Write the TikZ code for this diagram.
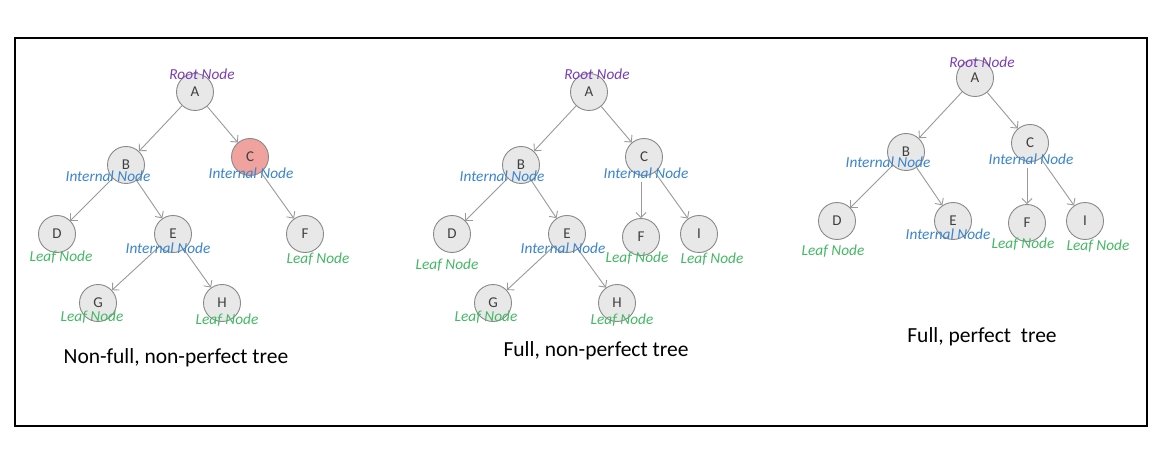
\documentclass[tikz,border=0pt]{standalone}
\usepackage{fontspec}
\setmainfont{Carlito}
\usetikzlibrary{arrows.meta}
\definecolor{rootc}{HTML}{7A3DB8}
\definecolor{intc}{HTML}{3A85CC}
\definecolor{leafc}{HTML}{45B865}
\definecolor{nodefill}{HTML}{E8E8E8}
\definecolor{nodeborder}{HTML}{8A8A8A}
\definecolor{nodetext}{HTML}{404040}
\definecolor{pinkfill}{HTML}{F0A29E}
\definecolor{edgec}{HTML}{9A9A9A}
\begin{document}
\begin{tikzpicture}[x=1pt,y=-1pt,
  tn/.style={circle,draw=nodeborder,fill=nodefill,line width=0.9pt,minimum size=37pt,inner sep=0pt,font=\fontsize{15}{15}\selectfont,text=nodetext},
  pinknode/.style={tn,fill=pinkfill},
  lbl/.style={inner sep=0pt,font=\fontsize{15.3}{15.3}\selectfont\itshape},
  rootlbl/.style={lbl,text=rootc},
  intlbl/.style={lbl,text=intc},
  leaflbl/.style={lbl,text=leafc},
  edge/.style={draw=edgec,line width=0.9pt,-{Straight Barb[length=5pt,width=10pt]}},
  ttl/.style={inner sep=0pt,font=\fontsize{21.5}{21.5}\selectfont,text=black}]
\fill[white] (0,0) rectangle (1166,462);
\useasboundingbox (0,0) rectangle (1166,462);
\draw[line width=2.2pt] (15,38) rectangle (1147,426);

% ---------- Tree 1 ----------
\node[tn] (A1) at (195,92) {A};
\node[tn] (B1) at (126,165) {B};
\node[pinknode] (C1) at (250,157) {C};
\node[tn] (D1) at (57,234) {D};
\node[tn] (E1) at (173,234) {E};
\node[tn] (F1) at (305,234) {F};
\node[tn] (G1) at (98,303) {G};
\node[tn] (H1) at (222,303) {H};
\draw[edge] (A1) -- (B1);
\draw[edge] (A1) -- (C1);
\draw[edge] (B1) -- (D1);
\draw[edge] (B1) -- (E1);
\draw[edge] (C1) -- (F1);
\draw[edge] (E1) -- (G1);
\draw[edge] (E1) -- (H1);
\node[rootlbl] (rA1) at (202,74) {Root Node};
\node[intlbl] (iB1) at (108,176) {Internal Node};
\node[intlbl] (iC1) at (251,173) {Internal Node};
\node[leaflbl] (lD1) at (61,257) {Leaf Node};
\node[intlbl] (iE1) at (168,248) {Internal Node};
\node[leaflbl] (lF1) at (318,259) {Leaf Node};
\node[leaflbl] (lG1) at (92,317) {Leaf Node};
\node[leaflbl] (lH1) at (227,320) {Leaf Node};
\node[ttl] (t1) at (176,358) {Non-full, non-perfect tree};

% ---------- Tree 2 ----------
\node[tn] (A2) at (589,92) {A};
\node[tn] (B2) at (521,165) {B};
\node[tn] (C2) at (644,157) {C};
\node[tn] (D2) at (452,234) {D};
\node[tn] (E2) at (567,234) {E};
\node[tn] (F2) at (641,237) {F};
\node[tn] (I2) at (699,234) {I};
\node[tn] (G2) at (493,303) {G};
\node[tn] (H2) at (617,303) {H};
\draw[edge] (A2) -- (B2);
\draw[edge] (A2) -- (C2);
\draw[edge] (B2) -- (D2);
\draw[edge] (B2) -- (E2);
\draw[edge,shorten <=6pt] (C2.south -| F2) -- (F2);
\draw[edge] (C2) -- (I2);
\draw[edge] (E2) -- (G2);
\draw[edge] (E2) -- (H2);
\node[rootlbl] (rA2) at (597,74) {Root Node};
\node[intlbl] (iB2) at (502,176) {Internal Node};
\node[intlbl] (iC2) at (646,173) {Internal Node};
\node[leaflbl] (lD2) at (447,265) {Leaf Node};
\node[intlbl] (iE2) at (563,248) {Internal Node};
\node[leaflbl] (lF2) at (637,258) {Leaf Node};
\node[leaflbl] (lI2) at (712,259) {Leaf Node};
\node[leaflbl] (lG2) at (486,317) {Leaf Node};
\node[leaflbl] (lH2) at (622,320) {Leaf Node};
\node[ttl] (t2) at (596,351) {Full, non-perfect tree};

% ---------- Tree 3 ----------
\node[tn] (A3) at (975,78) {A};
\node[tn] (B3) at (906,152) {B};
\node[tn] (C3) at (1030,143) {C};
\node[tn] (D3) at (837,221) {D};
\node[tn] (E3) at (953,221) {E};
\node[tn] (F3) at (1027,223) {F};
\node[tn] (I3) at (1085,221) {I};
\draw[edge] (A3) -- (B3);
\draw[edge] (A3) -- (C3);
\draw[edge] (B3) -- (D3);
\draw[edge] (B3) -- (E3);
\draw[edge,shorten <=6pt] (C3.south -| F3) -- (F3);
\draw[edge] (C3) -- (I3);
\node[rootlbl] (rA3) at (982,62) {Root Node};
\node[intlbl] (iB3) at (888,162) {Internal Node};
\node[intlbl] (iC3) at (1031,159) {Internal Node};
\node[leaflbl] (lD3) at (833,251) {Leaf Node};
\node[intlbl] (iE3) at (948,234) {Internal Node};
\node[leaflbl] (lF3) at (1023,244) {Leaf Node};
\node[leaflbl] (lI3) at (1098,246) {Leaf Node};
\node[ttl] (t3) at (982,337) {Full, perfect\ \ tree};
\end{tikzpicture}
\end{document}
